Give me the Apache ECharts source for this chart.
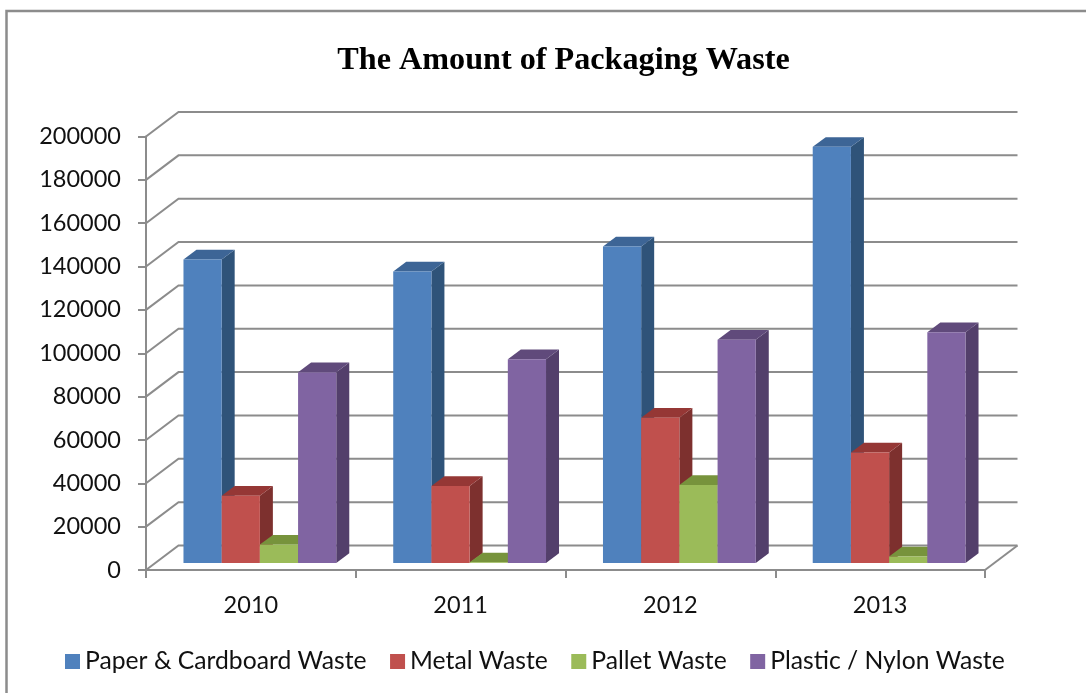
<!DOCTYPE html>
<html><head><meta charset="utf-8">
<style>html,body{margin:0;padding:0;background:#fff}#c{width:1086px;height:693px}</style>
<script src="https://cdn.jsdelivr.net/npm/echarts@6/dist/echarts.min.js"></script>
</head><body><div id="c"></div>
<script>
const categories = ['2010','2011','2012','2013'];
const paper = [140000,134500,146000,192000];
const metal = [31000,35500,67000,51000];
const pallet = [8500,300,36000,3000];
const plastic = [88000,94000,103000,106500];
const yTicks = [0,20000,40000,60000,80000,100000,120000,140000,160000,180000,200000];
const seriesNames = ['Paper & Cardboard Waste','Metal Waste','Pallet Waste','Plastic / Nylon Waste'];
const seriesValues = [paper,metal,pallet,plastic];
const palette = [
 {front:'#4F81BD',top:'#3D6596',side:'#2F5379'},
 {front:'#C0504D',top:'#953735',side:'#7D302E'},
 {front:'#9BBB59',top:'#77933C',side:'#5F7530'},
 {front:'#8064A2',top:'#604A7B',side:'#533F6B'}
];
const GREY='#8C8C8C';
const wallDx=32.5, wallDy=-24.5;
const baseDx=9, baseDy=-7;
const barW=38.2, depthDx=13, depthDy=-9.7;

function barRender(si){
  return function(params,api){
    const c=api.coord([api.value(0),api.value(1)]);
    const z=api.coord([api.value(0),0]);
    const x=c[0]+baseDx+(si-2)*barW, y0=z[1]+baseDy, y1=c[1]+baseDy;
    const col=palette[si];
    return {type:'group',children:[
      {type:'polygon',shape:{points:[[x+barW,y0],[x+barW+depthDx,y0+depthDy],[x+barW+depthDx,y1+depthDy],[x+barW,y1]]},style:{fill:col.side}},
      {type:'polygon',shape:{points:[[x,y1],[x+barW,y1],[x+barW+depthDx,y1+depthDy],[x+depthDx,y1+depthDy]]},style:{fill:col.top}},
      {type:'rect',shape:{x:x,y:y1,width:barW,height:y0-y1},style:{fill:col.front}}
    ]};
  };
}
function wallRender(params,api){
  const p=api.coord([0,api.value(0)]);
  const band=api.size([1,0])[0];
  const xl=p[0]-band/2, xr=xl+band*categories.length, y=p[1];
  const kids=[{type:'polyline',shape:{points:[[xl,y],[xl+wallDx,y+wallDy],[xr+wallDx,y+wallDy]]},style:{stroke:GREY,lineWidth:2,fill:null}}];
  if(api.value(0)===0){kids.push({type:'line',shape:{x1:xr,y1:y,x2:xr+wallDx,y2:y+wallDy},style:{stroke:GREY,lineWidth:2}});}
  return {type:'group',children:kids};
}
const series=[{type:'custom',name:'walls',silent:true,z:1,clip:false,renderItem:wallRender,data:yTicks.map(v=>[v]),encode:{y:0},tooltip:{show:false}}];
seriesNames.forEach((n,i)=>{
  series.push({type:'custom',name:n,z:2,clip:false,renderItem:barRender(i),itemStyle:{color:palette[i].front},
    data:seriesValues[i].map((v,k)=>[k,v]),encode:{x:0,y:1}});
});
const chart=echarts.init(document.getElementById('c'),null,{renderer:'canvas'});
chart.setOption({
  animation:false,backgroundColor:'#fff',
  title:{text:'The Amount of Packaging Waste',left:558.5,top:40,textAlign:'center',
    textStyle:{fontFamily:'Liberation Serif',fontWeight:'bold',fontSize:32.2,color:'#000'}},
  graphic:[{type:'polyline',shape:{points:[[6.5,693],[6.5,11],[1086,11]]},style:{stroke:GREY,lineWidth:2.5,fill:null}}],
  legend:{data:seriesNames,left:60,top:644,itemWidth:15,itemHeight:15,itemGap:23.5,icon:'rect',
    textStyle:{fontFamily:'Lato',fontSize:24.7,color:'#111',padding:[0,0,0,0]}},
  grid:{left:146,top:136.5,width:839,height:433.5},
  xAxis:{type:'category',data:categories,boundaryGap:true,
    axisLine:{lineStyle:{color:GREY,width:2}},axisTick:{show:true,alignWithLabel:false,length:8,lineStyle:{color:GREY,width:2}},
    axisLabel:{margin:23,fontFamily:'Lato',fontSize:23.5,color:'#111'},splitLine:{show:false}},
  yAxis:{type:'value',min:0,max:200000,interval:20000,
    axisLine:{show:true,lineStyle:{color:GREY,width:2}},axisTick:{show:true,length:8,lineStyle:{color:GREY,width:2}},
    axisLabel:{margin:25,fontFamily:'Lato',fontSize:23.5,color:'#111',formatter:v=>String(v)},splitLine:{show:false}},
  series:series
});
</script></body></html>
